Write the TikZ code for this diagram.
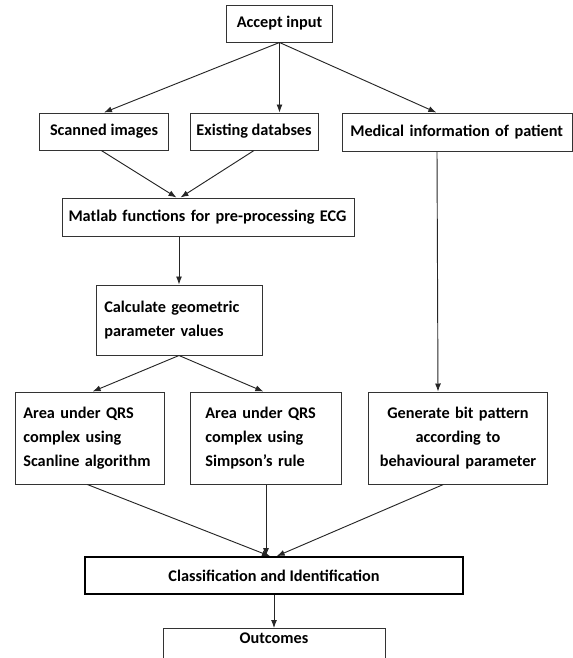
\documentclass[tikz,border=0pt]{standalone}
\usepackage{fontspec}
\setmainfont{Carlito}
\usetikzlibrary{arrows.meta}
\begin{document}
\begin{tikzpicture}[x=0.75pt, y=-0.75pt,
	box/.style={draw=black!80, line width=0.75pt, font=\bfseries\fontsize{12.2}{18}\selectfont, inner sep=0pt},
	arr/.style={draw=black!85, line width=0.7pt, -{Latex[length=6pt,width=4.5pt]}}]
	\useasboundingbox (0,0) rectangle (573,658);
	\clip (0,0) rectangle (573,658);
	\node[box, minimum width=79.5pt, minimum height=27.75pt] (accept) at (279.5,23.5) {Accept input};
	\node[box, minimum width=97pt, minimum height=27.75pt] (scanned) at (104,131.5) {Scanned images};
	\node[box, minimum width=96pt, minimum height=27.75pt] (existing) at (254,131.5) {Existing databses};
	\node[box, minimum width=172.5pt, minimum height=28.5pt, text width=160pt, align=left] (medical) at (457,132) {Medical information of patient\\[-3pt]};
	\node[box, minimum width=219pt, minimum height=28.5pt, text width=210pt, align=left] (matlab) at (208.5,217) {Matlab functions for pre-processing ECG};
	\node[box, minimum width=124.5pt, minimum height=52.5pt, text width=112pt, align=left] (calc) at (179,320) {Calculate geometric\\parameter values\\[-6pt]};
	\node[box, minimum width=111.5pt, minimum height=69pt, text width=100pt, align=left] (areaA) at (90,438) {Area under QRS\\complex using\\Scanline algorithm\\[-2pt]};
	\node[box, minimum width=113pt, minimum height=69pt, text width=91pt, align=left] (areaB) at (266,438) {Area under QRS\\complex using\\Simpson's rule\\[2pt]};
	\node[box, minimum width=134.5pt, minimum height=69pt, text width=124pt, align=center] (bits) at (458,438) {Generate bit pattern\\according to\\behavioural parameter\\[-2pt]};
	\node[box, draw=black, line width=1.3pt, minimum width=284pt, minimum height=27.75pt] (classify) at (274,575.5) {Classification and Identification};
	\node[box, anchor=north, minimum width=166.5pt, text height=10.5pt, text depth=25pt, inner ysep=1pt] (outcomes) at (274,628) {Outcomes};
	% connectors
	\draw[arr] (accept.south) -- (scanned.north);
	\draw[arr] (accept.south) -- (accept.south |- existing.north);
	\draw[arr] (accept.south) -- ([xshift=-15.5pt]medical.north);
	\draw[arr] ([xshift=-2pt]scanned.south) -- ([xshift=-24pt]matlab.north);
	\draw[arr] (existing.south) -- ([xshift=-21pt]matlab.north);
	\draw[arr] (calc.north |- matlab.south) -- (calc.north);
	\draw[arr] ([xshift=-15pt]medical.south) -- ([xshift=-15pt]bits.north);
	\draw[arr] (calc.south) -- ([xshift=2pt]areaA.north);
	\draw[arr] (calc.south) -- ([xshift=-2pt]areaB.north);
	\draw[arr] ([xshift=-2pt]areaA.south) -- ([xshift=-3pt]classify.north);
	\draw[arr] (areaB.south) -- (areaB.south |- classify.north);
	\draw[arr] ([xshift=-11pt]bits.south) -- ([xshift=2pt]classify.north);
	\draw[arr] (classify.south) -- (classify.south |- outcomes.north);
\end{tikzpicture}
\end{document}
